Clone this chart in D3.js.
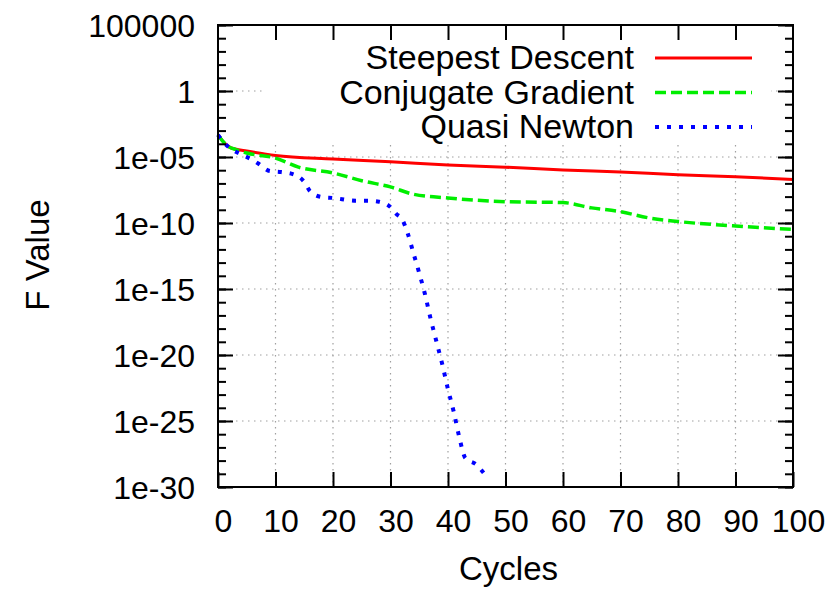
<!DOCTYPE html>
<html>
<head>
<meta charset="utf-8">
<script src="https://cdn.jsdelivr.net/npm/d3@7"></script>
<style>
  body { margin: 0; background: #fff; }
  text { font-family: "Liberation Sans", Arial, sans-serif; fill: #000; }
</style>
</head>
<body>
<div class="chart"></div>
<script>
// series (cycle, F value)
const sdCycles = [0, 1, 2, 3, 5, 10, 20, 30, 40, 50, 60, 70, 80, 90, 100]
const sdValues = [4.7e-4, 1.3e-4, 5.6e-5, 4.0e-5, 2.8e-5, 1.3e-5, 7.1e-6, 4.4e-6, 2.5e-6, 1.7e-6, 1.05e-6, 7.2e-7, 4.6e-7, 3.2e-7, 2.0e-7]

const cgCycles = [0, 1, 2, 3, 5, 10, 14, 20, 25, 30, 34, 40, 50, 60, 65, 70, 75, 80, 90, 100]
const cgValues = [4.7e-4, 1.3e-4, 5.6e-5, 3.8e-5, 2.0e-5, 8.3e-6, 1.7e-6, 6.2e-7, 1.6e-7, 5.4e-8, 1.5e-8, 7.9e-9, 4.1e-9, 3.5e-9, 1.4e-9, 7.2e-10, 2.4e-10, 1.3e-10, 5.9e-11, 3.3e-11]

const qnCycles = [0, 1, 2, 4, 6, 7, 9, 11, 13, 15, 16, 18, 20, 24, 26, 28, 30, 31, 32, 33, 34, 35, 36, 37, 38, 39, 40, 41, 42, 43, 45, 46.5]
const qnValues = [4.7e-4, 1.3e-4, 5.0e-5, 1.6e-5, 6.0e-6, 3.2e-6, 8.7e-7, 7.2e-7, 5.1e-7, 1.3e-7, 2.6e-8, 9.3e-9, 7.9e-9, 4.9e-9, 4.9e-9, 4.1e-9, 1.6e-9, 5.0e-10, 2.0e-10, 1.6e-11, 5.0e-13, 1.6e-14, 4.0e-16, 5.0e-18, 1.0e-19, 2.0e-21, 2.5e-23, 5.0e-25, 5.0e-27, 1.6e-28, 4.7e-29, 8.0e-30]

const labels = ['Steepest Descent', 'Conjugate Gradient', 'Quasi Newton']
const xTicks = [0, 10, 20, 30, 40, 50, 60, 70, 80, 90, 100]
const yTicks = [1e5, 1, 1e-5, 1e-10, 1e-15, 1e-20, 1e-25, 1e-30]
const yTickLabels = ['100000', '1', '1e-05', '1e-10', '1e-15', '1e-20', '1e-25', '1e-30']

const series = [
  {name: labels[0], cycles: sdCycles, values: sdValues, color: '#ff0000', dash: null, width: 3},
  {name: labels[1], cycles: cgCycles, values: cgValues, color: '#00ee00', dash: '11,5', width: 3.5},
  {name: labels[2], cycles: qnCycles, values: qnValues, color: '#0000ff', dash: '4,8', width: 4}
]

const margin = {top: 25, right: 46, bottom: 103, left: 218},
    width = 839 - margin.left - margin.right,
    height = 590 - margin.top - margin.bottom;

const svg = d3.select(".chart")
  .append("svg")
    .attr("width", 839)
    .attr("height", 590)
  .append("g")
    .attr("transform", `translate(${margin.left},${margin.top})`);

const x = d3.scaleLinear().domain([0, 100]).range([0, width])
const y = d3.scaleLog().domain([1e-30, 1e5]).range([height, 0])

// minor ticks on y: one per decade
const yMinor = d3.range(-30, 6).map(e => Math.pow(10, e))

// grid
svg.append('g')
  .selectAll('line')
  .data(xTicks.slice(1, -1))
  .join('line')
    .attr('x1', d => x(d)).attr('x2', d => x(d))
    .attr('y1', 0).attr('y2', height)
    .attr('stroke', '#a0a0a0').attr('stroke-width', 1.2)
    .attr('stroke-dasharray', '1.5,4.5')
svg.append('g')
  .selectAll('line')
  .data(yTicks.slice(1, -1))
  .join('line')
    .attr('x1', 0).attr('x2', width)
    .attr('y1', d => y(d)).attr('y2', d => y(d))
    .attr('stroke', '#a0a0a0').attr('stroke-width', 1.2)
    .attr('stroke-dasharray', '1.5,4.5')

// opaque key area
svg.append('rect')
  .attr('x', 47).attr('y', 1)
  .attr('width', 506).attr('height', 115)
  .attr('fill', '#fff')

// lines
const line = d3.line()
  .x(d => x(d[0]))
  .y(d => y(d[1]))
  .curve(d3.curveMonotoneX)

svg.append('g')
  .selectAll('path')
  .data(series)
  .join('path')
    .attr('fill', 'none')
    .attr('stroke', d => d.color)
    .attr('stroke-width', d => d.width)
    .attr('stroke-dasharray', d => d.dash)
    .attr('d', d => line(d.cycles.map((c, i) => [c, d.values[i]])))

// axes: bottom / top / left / right, ticks pointing inward
const tickStyle = g => {
  g.select('.domain').remove()
  g.selectAll('.tick line').attr('stroke', '#000').attr('stroke-width', 2)
}

svg.append('g')
  .attr('transform', `translate(0,${height})`)
  .call(d3.axisBottom(x).tickValues(xTicks).tickSizeInner(-15).tickSizeOuter(0).tickPadding(0).tickFormat(d3.format('d')))
  .call(tickStyle)
  .call(g => g.selectAll('.tick text')
      .attr('y', 45).attr('dy', 0).attr('dx', 5)
      .style('font-size', '32px'))

svg.append('g')
  .call(d3.axisTop(x).tickValues(xTicks.slice(1, -1)).tickSizeInner(-15).tickSizeOuter(0).tickFormat(''))
  .call(tickStyle)

svg.append('g')
  .call(d3.axisLeft(y).tickValues(yMinor).tickSizeInner(-8).tickSizeOuter(0).tickFormat(''))
  .call(tickStyle)
svg.append('g')
  .call(d3.axisLeft(y).tickValues(yTicks).tickSizeInner(-15).tickSizeOuter(0).tickPadding(0)
    .tickFormat((d, i) => yTickLabels[i]))
  .call(tickStyle)
  .call(g => g.selectAll('.tick text')
      .attr('x', -23).attr('dy', '0.36em')
      .style('font-size', '32px'))

svg.append('g')
  .attr('transform', `translate(${width},0)`)
  .call(d3.axisRight(y).tickValues(yMinor).tickSizeInner(-8).tickSizeOuter(0).tickFormat(''))
  .call(tickStyle)
svg.append('g')
  .attr('transform', `translate(${width},0)`)
  .call(d3.axisRight(y).tickValues(yTicks).tickSizeInner(-15).tickSizeOuter(0).tickFormat(''))
  .call(tickStyle)

// frame
svg.append('rect')
  .attr('width', width).attr('height', height)
  .attr('fill', 'none').attr('stroke', '#000').attr('stroke-width', 2)

// axis titles
svg.append('text')
  .attr('x', width / 2 + 3).attr('y', height + 93)
  .attr('text-anchor', 'middle')
  .style('font-size', '33px')
  .text('Cycles')

svg.append('text')
  .attr('transform', `translate(${49 - margin.left},${255 - margin.top}) rotate(-90)`)
  .attr('text-anchor', 'middle')
  .style('font-size', '33px')
  .text('F Value')

// legend
const legend = svg.append('g')
  .selectAll('g')
  .data(series)
  .join('g')
    .attr('transform', (d, i) => `translate(0,${33 + 34.5 * i})`)

legend.append('text')
  .attr('x', 416).attr('y', 11)
  .attr('text-anchor', 'end')
  .style('font-size', '34px')
  .text(d => d.name)

legend.append('line')
  .attr('x1', 437).attr('x2', 534)
  .attr('stroke', d => d.color)
  .attr('stroke-width', d => d.width)
  .attr('stroke-dasharray', d => d.dash)
</script>
</body>
</html>
